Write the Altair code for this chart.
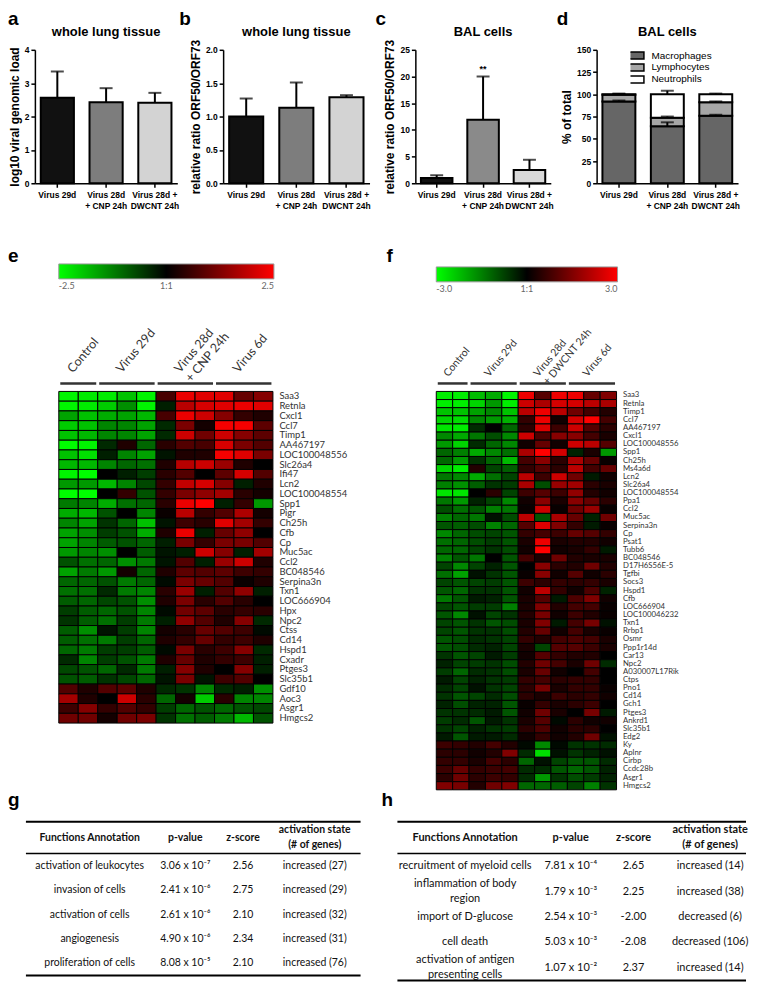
import altair as alt
import pandas as pd

FONT = "Liberation Sans"
CAL = "Lato"

# ---------------- bar panels a-c ----------------
bar_groups = ["Virus 29d", "Virus 28d\n+ CNP 24h", "Virus 28d +\nDWCNT 24h"]
a_mean = [2.56, 2.43, 2.41]
a_sem = [0.79, 0.42, 0.30]
b_mean = [1.00, 1.13, 1.29]
b_sem = [0.27, 0.38, 0.03]
c_mean = [1.0, 11.9, 2.5]
c_sem = [0.5, 8.1, 1.9]
c_signif = ["", "**", ""]
fill_ab = ["#111111", "#7d7d7d", "#d3d3d3"]
fill_c = ["#111111", "#8a8a8a", "#d9d9d9"]

# ---------------- panel d ----------------
cell_types = ["Macrophages", "Lymphocytes", "Neutrophils"]
d_macro = [92.0, 64.0, 76.0]
d_lymph = [7.5, 9.5, 15.0]
d_neut = [0.5, 26.5, 9.0]
d_macro_err = [1.0, 4.5, 1.0]
d_lymph_err = [0.8, 1.5, 1.0]
d_neut_err = [0.8, 4.0, 0.8]
cell_fill = ["#666666", "#a6a6a6", "#ffffff"]

# ---------------- heatmap e ----------------
e_groups = ["Control", "Virus 29d", "Virus 28d\n+ CNP 24h", "Virus 6d"]
e_group_sizes = [2, 3, 3, 3]
e_genes = ["Saa3", "Retnla", "Cxcl1", "Ccl7", "Timp1", "AA467197", "LOC100048556", "Slc26a4",
           "Ifi47", "Lcn2", "LOC100048554", "Spp1", "Pigr", "Ch25h", "Cfb", "Cp", "Muc5ac", "Ccl2",
           "BC048546", "Serpina3n", "Txn1", "LOC666904", "Hpx", "Npc2", "Ctss", "Cd14", "Hspd1",
           "Cxadr", "Ptges3", "Slc35b1", "Gdf10", "Aoc3", "Asgr1", "Hmgcs2"]
e_values = [
    [-2.4, -2.3, -2.3, -1.9, -2.4, 0.7, 2.3, 2.2, 2.2, 1.0, 1.3],
    [-2.4, -2.3, -2.0, -1.4, -2.4, -0.3, 1.8, 2.1, 2.2, 2.3, 2.2],
    [-1.6, -1.9, -1.7, -1.6, -1.8, 0.7, 2.3, 2.0, 1.3, 0.5, 0.3],
    [-2.0, -1.9, -1.3, -1.3, -1.6, -0.4, 1.2, 0.2, 2.4, 2.4, 0.9],
    [-1.9, -1.8, -1.3, -1.3, -1.6, -0.4, 2.0, 1.1, 2.0, 1.3, 0.9],
    [-2.5, -2.4, -0.4, 0.3, -1.0, 0.4, 0.8, 0.7, 2.1, 1.2, 0.8],
    [-1.9, -2.2, -0.3, -1.3, -1.6, -0.2, 0.3, 0.3, 2.4, 2.2, 1.2],
    [-1.8, -1.8, -1.3, -1.0, -1.1, 0.3, 1.8, 2.0, 1.5, 0.3, 0.0],
    [-2.4, -2.5, 0.0, -0.3, -0.6, 0.4, 0.8, 0.0, 0.9, 2.1, 0.8],
    [-1.5, -1.5, -1.8, -1.3, -0.7, 0.5, 1.9, 2.1, 1.3, -0.3, 0.3],
    [-2.5, -2.5, 0.0, 0.5, -0.8, 0.5, 1.2, 1.4, 1.6, 0.4, 0.2],
    [-1.2, -1.3, -1.7, -1.1, -1.0, 0.4, 2.3, 2.5, -0.3, 0.5, -1.5],
    [-1.7, -1.8, -0.8, 0.0, -1.3, 0.1, 1.8, 0.5, 0.8, 1.7, 0.2],
    [-1.3, -1.6, -0.5, -1.0, -1.9, -0.2, 0.6, 0.4, 2.2, 1.6, 0.5],
    [-1.6, -1.4, -0.6, -0.8, -1.7, 0.3, 2.3, -0.3, 1.0, 1.4, 0.0],
    [-1.6, -1.3, -0.9, -0.8, -1.0, -0.3, 1.2, 0.5, 1.2, 1.2, 0.8],
    [-1.5, -1.3, -1.4, 0.0, -0.9, -0.2, -0.3, 2.0, 1.3, -0.3, 1.6],
    [-0.8, -1.1, -1.0, -1.4, -1.2, -0.2, 0.8, -0.3, 1.5, 2.0, 0.3],
    [-1.6, -1.2, -1.5, 0.2, -1.0, 0.3, 0.9, 0.8, 0.9, 0.6, 0.5],
    [-1.0, -1.0, -0.8, -1.2, -1.0, -0.1, 1.2, 1.0, 0.8, 0.1, 0.3],
    [-1.1, -1.1, -0.4, -1.2, -1.3, 0.4, 1.5, -0.3, 0.8, 1.4, -0.3],
    [-0.9, -1.0, -0.7, -0.8, -1.4, 0.3, 1.2, 0.4, 0.8, 0.4, 0.0],
    [-0.6, -0.9, -1.0, -0.8, -1.3, -0.1, 1.1, 0.9, 0.4, 0.5, 0.4],
    [-0.5, -0.9, -1.1, -0.6, -1.2, -0.3, 1.4, 0.8, 0.3, 1.3, -0.4],
    [-0.9, -1.4, -0.2, -0.6, -1.3, 0.2, 0.4, 1.0, 0.8, 0.6, -0.1],
    [-0.9, -1.1, -1.2, -0.6, -1.0, 0.3, 0.5, 1.0, 0.5, 0.6, 0.3],
    [-1.0, -1.2, -0.6, -0.6, -0.9, -0.1, 1.2, 0.4, 0.6, 1.3, -0.4],
    [-0.4, -1.3, -0.6, -0.8, -1.2, 0.3, 1.0, 0.3, 0.5, 0.6, -0.3],
    [-0.7, -0.8, -1.0, -0.4, -1.2, -0.3, 1.3, 0.3, 0.0, 1.3, -0.3],
    [-0.8, -0.9, -0.5, -0.7, -1.0, -0.2, 1.2, -0.2, 0.6, 0.8, 0.0],
    [0.8, 0.3, 0.8, 0.9, 0.3, -0.4, -0.5, -1.3, -0.4, -0.3, -1.4],
    [1.6, 0.3, 0.0, 2.0, 0.4, -1.0, 0.2, -2.0, 0.4, -1.3, -1.3],
    [0.6, 1.3, 0.5, 0.8, 0.5, -0.6, -1.0, -0.8, -1.0, -0.8, -0.7],
    [1.1, 1.1, 0.2, 1.1, 1.2, -0.5, -1.1, -0.9, -1.2, -1.8, -0.8],
]

# ---------------- heatmap f ----------------
f_groups = ["Control", "Virus 29d", "Virus 28d\n+ DWCNT 24h", "Virus 6d"]
f_group_sizes = [2, 3, 3, 3]
f_genes = ["Saa3", "Retnla", "Timp1", "Ccl7", "AA467197", "Cxcl1", "LOC100048556", "Spp1", "Ch25h",
           "Ms4a6d", "Lcn2", "Slc26a4", "LOC100048554", "Ppa1", "Ccl2", "Muc5ac", "Serpina3n", "Cp",
           "Psat1", "Tubb6", "BC048546", "D17H6S56E-5", "Tgfbi", "Socs3", "Hspd1", "Cfb", "LOC666904",
           "LOC100046232", "Txn1", "Rrbp1", "Osmr", "Ppp1r14d", "Car13", "Npc2", "A030007L17Rik", "Ctps",
           "Pno1", "Cd14", "Gch1", "Ptges3", "Ankrd1", "Slc35b1", "Edg2", "Ky", "Aplnr", "Cirbp",
           "Ccdc28b", "Asgr1", "Hmgcs2"]
f_values = [
    [-2.8, -2.8, -2.2, -2.0, -2.9, 2.8, 1.0, 2.8, 2.8, 1.2, 1.5],
    [-2.8, -2.8, -2.5, -1.8, -2.8, 2.4, 2.0, 2.5, 2.5, 2.2, 2.0],
    [-2.3, -2.3, -1.9, -1.6, -2.3, 2.2, 2.8, 2.2, 1.3, 0.8, 0.4],
    [-2.5, -2.6, -1.6, -1.8, -2.1, 0.6, 2.8, 0.2, 2.5, 3.0, 0.8],
    [-2.7, -2.8, -0.5, 0.0, -1.2, 0.5, 2.6, 0.7, 2.4, 1.0, 0.5],
    [-1.6, -2.0, -1.4, -0.9, -1.6, 2.4, 0.9, 1.6, 1.6, 0.8, 0.3],
    [-1.8, -2.5, -0.5, -1.2, -1.6, 0.2, 1.2, 0.2, 2.4, 2.2, 1.0],
    [-1.2, -1.5, -2.0, -1.6, -1.3, 2.0, 3.0, 2.5, -0.4, 0.3, -1.8],
    [-1.2, -1.8, -0.6, -1.2, -2.2, 0.8, 1.6, 0.5, 2.0, 1.2, 0.1],
    [-2.5, -2.8, 0.4, -0.8, -1.1, 0.6, 1.0, 0.5, 2.2, 0.8, 1.2],
    [-1.4, -1.6, -2.0, -1.3, -0.8, 2.2, 0.7, 2.4, 1.3, -0.3, 0.2],
    [-1.5, -1.7, -1.1, -0.6, -0.7, 2.0, -0.9, 1.8, 1.9, 0.5, 0.3],
    [-2.7, -2.7, 0.0, 0.5, -0.8, 0.7, 1.0, 0.7, 1.7, 0.4, 0.2],
    [-1.4, -1.8, -0.4, -0.8, -1.6, 0.2, 1.6, 0.3, 1.6, 1.2, 0.5],
    [-0.9, -1.3, -1.0, -1.5, -1.4, 0.1, 2.4, 0.1, 1.3, 1.8, 0.1],
    [-1.5, -1.2, -1.4, -0.2, -0.9, 2.2, -1.0, 2.0, 1.2, -0.4, 1.3],
    [-1.0, -1.1, -0.9, -1.5, -1.2, 1.0, 2.6, 1.5, 0.6, -0.3, 0.1],
    [-1.6, -1.2, -0.9, -0.8, -1.0, 0.6, 0.8, 0.7, 1.2, 1.0, 0.6],
    [-1.3, -1.2, -0.9, -0.7, -1.0, 0.3, 2.8, 0.3, 0.4, 0.4, 0.2],
    [-1.2, -1.2, -0.8, -0.6, -0.9, 0.2, 3.0, 0.2, 0.3, 0.6, -0.3],
    [-1.5, -1.0, -1.4, 0.0, -1.0, 0.8, 0.3, 1.3, 0.4, 0.3, 0.3],
    [-0.8, -1.6, -0.8, -0.4, -1.0, 0.0, 1.6, 0.5, 0.4, 1.3, 0.4],
    [-1.3, -1.9, -0.2, -0.6, -1.0, 0.1, 1.6, 0.2, 1.0, 0.2, 0.5],
    [-0.8, -1.0, -0.8, -0.7, -1.0, 0.7, 0.5, 0.6, 0.5, 0.6, 0.3],
    [-1.0, -1.2, -0.6, -0.6, -1.0, 0.2, 2.2, 0.6, 0.2, 0.9, -0.4],
    [-1.4, -1.0, -0.3, -0.4, -1.0, 0.3, 1.0, -0.3, 0.9, 1.5, 0.2],
    [-0.8, -1.0, -0.7, -0.7, -1.5, 0.3, 1.5, 0.4, 0.8, 0.8, 0.1],
    [-1.0, -1.6, -0.2, -0.8, -0.6, 0.4, 1.4, 0.2, 0.7, 0.4, 0.1],
    [-0.8, -1.0, -0.6, -1.0, -0.9, 0.3, 1.5, -0.3, 0.8, 1.4, -0.2],
    [-0.8, -1.0, -0.6, -0.6, -0.9, 0.4, 1.2, 0.2, 0.8, 0.3, 0.1],
    [-1.0, -0.9, -0.5, -0.6, -0.8, 0.6, 0.4, 0.8, 0.9, 0.8, 0.3],
    [-1.0, -0.9, -0.5, -0.4, -0.8, 0.3, -0.8, 1.0, 1.0, 0.7, 0.3],
    [-0.6, -1.0, -0.8, -0.3, -0.7, 0.2, 1.0, 0.6, 0.4, 0.4, 0.0],
    [-0.4, -0.8, -0.7, -0.6, -0.9, 0.4, 1.3, 0.8, 0.3, 1.3, -0.5],
    [-0.7, -1.2, -0.5, -0.6, -0.9, 0.3, 1.2, 0.2, 0.0, 0.8, 0.0],
    [-0.3, -0.8, -0.4, -0.6, -0.7, 0.6, 0.8, 0.5, 0.6, 0.6, 0.0],
    [-0.5, -0.8, -0.2, -0.6, -0.8, 0.5, 1.4, 0.3, 0.6, 0.6, 0.1],
    [-0.6, -1.0, -0.8, -0.5, -0.9, 0.5, 0.3, 0.7, 0.5, 0.6, 0.2],
    [-0.4, -0.9, -0.4, -0.4, -1.0, 0.1, 0.6, 0.3, 0.5, 0.7, 0.0],
    [-0.6, -0.6, -0.5, -0.3, -1.0, 0.2, 1.3, 0.3, 0.0, 1.4, -0.3],
    [-0.7, -0.5, -1.0, -0.3, -0.6, 0.3, 1.0, -0.1, 0.5, 0.2, 0.2],
    [-0.6, -0.8, -0.4, -0.6, -0.7, 0.5, 0.9, 0.2, 0.5, 0.5, 0.0],
    [-0.3, -1.0, -0.3, -0.3, -0.5, 0.2, 0.6, 0.2, 0.4, 1.3, -0.2],
    [0.7, 0.6, 0.4, 0.8, 0.4, -0.1, -1.6, -0.1, -0.6, -0.6, -0.5],
    [0.5, 0.5, 0.2, 0.4, 1.5, -0.5, -2.6, -0.2, -0.6, -0.4, -0.2],
    [0.6, 0.6, 0.3, 0.8, 0.5, -1.2, -0.2, -0.8, -1.0, -1.0, -0.5],
    [0.7, 1.2, 0.6, 0.7, 0.8, -0.5, -0.5, -1.0, -1.2, -1.0, -0.4],
    [0.5, 1.3, 0.5, 0.7, 0.6, -0.5, -1.8, -0.6, -0.9, -0.7, -0.4],
    [1.5, 1.4, 0.4, 1.3, 1.5, -1.2, -1.2, -1.1, -0.8, -1.5, -0.6],
]

# ---------------- tables ----------------
tbl_header = ["Functions Annotation", "p-value", "z-score", "activation state\n(# of genes)"]
g_funcs = ["activation of leukocytes", "invasion of cells", "activation of cells", "angiogenesis",
           "proliferation of cells"]
g_pvals = ["3.06 x 10\u207b\u2077", "2.41 x 10\u207b\u2076", "2.61 x 10\u207b\u2076", "4.90 x 10\u207b\u2076",
           "8.08 x 10\u207b\u2075"]
g_z = ["2.56", "2.75", "2.10", "2.34", "2.10"]
g_state = ["increased (27)", "increased (29)", "increased (32)", "increased (31)", "increased (76)"]

h_funcs = ["recruitment of myeloid cells", "inflammation of body\nregion", "import of D-glucose", "cell death",
           "activation of antigen\npresenting cells"]
h_pvals = ["7.81 x 10\u207b\u2074", "1.79 x 10\u207b\u00b3", "2.54 x 10\u207b\u00b3", "5.03 x 10\u207b\u00b3",
           "1.07 x 10\u207b\u00b2"]
h_z = ["2.65", "2.25", "-2.00", "-2.08", "2.37"]
h_state = ["increased (14)", "increased (38)", "decreased (6)", "decreased (106)", "increased (14)"]

PLOT_H = 134
LETTER_X = -27
LETTER_Y = -25


def text_layer(txt, dx, dy, size, weight="bold", align="left", font=FONT, color="black"):
    return alt.Chart(pd.DataFrame({"t": [txt]})).mark_text(
        font=font, fontSize=size, fontWeight=weight, align=align, baseline="alphabetic", color=color
    ).encode(text="t:N", x=alt.value(dx), y=alt.value(dy))


def x_enc():
    return alt.X("group:N", sort=bar_groups, title=None,
                 scale=alt.Scale(paddingInner=0.32, paddingOuter=0.12),
                 axis=alt.Axis(labelAngle=0, labelExpr="split(datum.label, '\\n')", domainColor="black",
                               domainWidth=1.5, tickColor="black", tickWidth=1.5, tickSize=4, labelFont=FONT,
                               labelFontWeight="bold", labelFontSize=8.5, labelColor="black", labelLineHeight=11,
                               labelPadding=3))


def y_enc(field, title, ymax, values, fmt):
    return alt.Y(field, title=title, scale=alt.Scale(domain=[0, ymax], nice=False, zero=True),
                 axis=alt.Axis(values=values, format=fmt, grid=False, domainColor="black", domainWidth=1.5,
                               tickColor="black", tickWidth=1.5, tickSize=4, labelFont=FONT,
                               labelFontWeight="bold", labelFontSize=8.5, labelColor="black", labelPadding=2,
                               titleFont=FONT, titleFontWeight="bold", titleFontSize=12, titleColor="black",
                               titlePadding=3))


def bar_panel(mean, sem, fills, title, ytitle, ymax, yvalues, fmt, letter, letter_dx, width, signif=None):
    df = pd.DataFrame({"group": bar_groups, "mean": mean, "top": [m + s for m, s in zip(mean, sem)],
                       "fill": fills, "sig": signif if signif else ["", "", ""]})
    base = alt.Chart(df)
    err = base.mark_rule(color="black", strokeWidth=2).encode(
        x=x_enc(), y=y_enc("mean:Q", ytitle, ymax, yvalues, fmt), y2="top:Q")
    bars = base.mark_bar(stroke="black", strokeWidth=2).encode(
        x=x_enc(), y=y_enc("mean:Q", ytitle, ymax, yvalues, fmt),
        color=alt.Color("fill:N", scale=None, legend=None))
    caps = base.mark_tick(orient="horizontal", size=13, thickness=2, color="black").encode(
        x=x_enc(), y=y_enc("top:Q", ytitle, ymax, yvalues, fmt))
    layers = [err, bars, caps]
    if signif:
        layers.append(base.mark_text(font=FONT, fontSize=9, fontWeight="bold", baseline="bottom", dy=-3,
                                     color="black").encode(
            x=x_enc(), y=y_enc("top:Q", ytitle, ymax, yvalues, fmt), text="sig:N"))
    layers.append(text_layer(letter, letter_dx, LETTER_Y, 19))
    layers.append(text_layer(title, width / 2, -14, 13, align="center"))
    return alt.layer(*layers).properties(width=width, height=PLOT_H)


W_A, W_B, W_C, W_D = 143, 147, 136, 142
pa = bar_panel(a_mean, a_sem, fill_ab, "whole lung tissue", "log10 viral genomic load", 4,
               [0, 1, 2, 3, 4], "d", "a", LETTER_X, W_A)
pb = bar_panel(b_mean, b_sem, fill_ab, "whole lung tissue", "relative ratio ORF50/ORF73", 2.0,
               [0, 0.5, 1.0, 1.5, 2.0], ".1f", "b", -44, W_B)
pc = bar_panel(c_mean, c_sem, fill_c, "BAL cells", "relative ratio ORF50/ORF73", 25,
               [0, 5, 10, 15, 20, 25], "d", "c", -40, W_C, signif=c_signif)

# panel d
recs = []
for i, g in enumerate(bar_groups):
    cum = 0.0
    for ct, vals, errs in zip(cell_types, [d_macro, d_lymph, d_neut], [d_macro_err, d_lymph_err, d_neut_err]):
        recs.append({"group": g, "cell": ct, "y0": cum, "y1": cum + vals[i], "etop": cum + vals[i] + errs[i]})
        cum += vals[i]
ddf = pd.DataFrame(recs)
dbase = alt.Chart(ddf)
d_vals = [0, 25, 50, 75, 100, 125, 150]
d_bars = dbase.mark_bar(stroke="black", strokeWidth=2).encode(
    x=x_enc(), y=y_enc("y0:Q", "% of total", 150, d_vals, "d"), y2="y1:Q",
    color=alt.Color("cell:N", scale=alt.Scale(domain=cell_types, range=cell_fill),
                    legend=alt.Legend(orient="none", legendX=34, legendY=0, title=None,
                                      symbolType="M-1.5,-0.7H1.5V0.7H-1.5Z", symbolSize=100,
                                      symbolStrokeColor="black", symbolStrokeWidth=1.5, labelFont=FONT,
                                      labelFontSize=10, labelColor="black", rowPadding=0, clipHeight=11.5,
                                      labelOffset=9, padding=0)))
d_err = dbase.mark_rule(color="black", strokeWidth=2).encode(
    x=x_enc(), y=y_enc("y1:Q", "% of total", 150, d_vals, "d"), y2="etop:Q")
d_caps = dbase.mark_tick(orient="horizontal", size=13, thickness=2, color="black").encode(
    x=x_enc(), y=y_enc("etop:Q", "% of total", 150, d_vals, "d"))
pd_ = alt.layer(d_bars, d_err, d_caps, text_layer("d", -40, LETTER_Y, 19),
                text_layer("BAL cells", W_D / 2, -14, 13, align="center")).properties(width=W_D, height=PLOT_H)

row1 = alt.hconcat(pa, pb, pc, pd_, spacing=46, bounds="flush").resolve_scale(color="independent")


# ---------------- heatmaps ----------------
def heatmap(genes, vals, lim, cell_w, height, left_pad, groups, sizes, letter, letter_dx, gene_fs, group_fs,
            legend_y, label_y, spacer_y=None):
    ncol = len(vals[0])
    width = cell_w + left_pad
    recs = [{"gene": g, "c0": j, "c1": j + 1, "v": v} for g, row in zip(genes, vals) for j, v in enumerate(row)]
    df = pd.DataFrame(recs)
    xs = alt.Scale(domain=[-left_pad * ncol / cell_w, ncol], nice=False, zero=False)
    cells = alt.Chart(df).mark_rect(stroke="#000000", strokeWidth=1).encode(
        x=alt.X("c0:Q", scale=xs, axis=None), x2="c1:Q",
        y=alt.Y("gene:N", sort=genes, scale=alt.Scale(paddingInner=0, paddingOuter=0),
                axis=alt.Axis(orient="right", title=None, domain=False, ticks=False, labelFont=CAL,
                              labelFontSize=gene_fs, labelColor="#333333", labelPadding=6, labelOverlap=False)),
        color=alt.Color("v:Q", scale=alt.Scale(domain=[-lim, 0, lim], range=["#00ff00", "#000000", "#ff0000"],
                                               interpolate="rgb"),
                        legend=alt.Legend(orient="none", legendX=left_pad, legendY=legend_y,
                                          direction="horizontal", gradientLength=cell_w + 1,
                                          gradientThickness=15, title=None, values=[-lim, 0, lim],
                                          labelExpr="datum.value == 0 ? '1:1' : (datum.value < 0 ? '-' + "
                                                    "format(-datum.value, '.1f') : format(datum.value, '.1f'))",
                                          labelFont=CAL, labelFontSize=9, labelColor="#666666",
                                          labelOverlap=False, gradientStrokeColor="#999999",
                                          gradientStrokeWidth=1, labelOffset=3, padding=0)))
    starts, ends = [], []
    s = 0
    for n in sizes:
        starts.append(s)
        ends.append(s + n)
        s += n
    gdf = pd.DataFrame({"name": groups, "s": starts, "e": ends,
                        "m": [(a + b) / 2 for a, b in zip(starts, ends)]})
    glines = alt.Chart(gdf).mark_rule(color="#333333", strokeWidth=2.5, xOffset=1.5, x2Offset=-1.5).encode(
        x=alt.X("s:Q", scale=xs, axis=None), x2="e:Q", y=alt.value(-8))
    glabels = alt.Chart(gdf).mark_text(angle=310, align="left", baseline="bottom", font=CAL,
                                       fontSize=group_fs, color="#333333", lineBreak="\n", xOffset=-3).encode(
        x=alt.X("m:Q", scale=xs, axis=None), y=alt.value(label_y), text="name:N")
    layers = [cells, glines, glabels, text_layer(letter, letter_dx, -130, 19)]
    if spacer_y is not None:
        layers.append(alt.Chart(pd.DataFrame({"k": [0]})).mark_rule(opacity=0, strokeOpacity=0).encode(
            x=alt.value(0), y=alt.value(spacer_y), y2=alt.value(spacer_y + 1)))
    return alt.layer(*layers).properties(width=width, height=height)


he = heatmap(e_genes, e_values, 2.5, 215, 333, 24, e_groups, e_group_sizes, "e", LETTER_X, 9.5, 12.5,
             -128, -16, spacer_y=-182)
hf = heatmap(f_genes, f_values, 3.0, 181, 400, 0, f_groups, f_group_sizes, "f", -50, 7.8, 10.5, -125, -13)
row2 = alt.hconcat(he, hf, spacing=164, bounds="flush").resolve_scale(color="independent")


# ---------------- tables ----------------
def hrule(yv, x0, x1, sw):
    return alt.Chart(pd.DataFrame({"k": [0]})).mark_rule(color="black", strokeWidth=sw).encode(
        x=alt.value(x0), x2=alt.value(x1), y=alt.value(yv))


def table(columns, x0, x1, width, row_h, centers, letter, letter_dx, fs, lh=15):
    n = len(columns[0])
    height = n * row_h
    layers = []
    for col, cx in zip(columns, centers):
        recs = []
        for r, txt in enumerate(col):
            lines = txt.split("\n")
            for li, line in enumerate(lines):
                recs.append({"ypos": r + 0.5 + (li - (len(lines) - 1) / 2) * lh / row_h, "t": line})
        layers.append(alt.Chart(pd.DataFrame(recs)).mark_text(
            font=CAL, fontSize=fs, color="#111111", align="center", baseline="middle").encode(
            x=alt.value(cx),
            y=alt.Y("ypos:Q", axis=None, scale=alt.Scale(domain=[0, n], reverse=True, nice=False, zero=False)),
            text="t:N"))
    for htxt, cx in zip(tbl_header, centers):
        lines = htxt.split("\n")
        for li, line in enumerate(lines):
            yv = -16 + (li - (len(lines) - 1) / 2) * lh
            layers.append(alt.Chart(pd.DataFrame({"h": [line]})).mark_text(
                font=CAL, fontSize=fs, fontWeight="bold", color="#111111", align="center",
                baseline="middle").encode(x=alt.value(cx), y=alt.value(yv), text="h:N"))
    layers += [hrule(-32, x0, x1, 2), hrule(0, x0, x1, 1.5), hrule(height, x0, x1, 2)]
    layers.append(text_layer(letter, letter_dx, -48, 19))
    return alt.layer(*layers).properties(width=width, height=height)


tg = table([g_funcs, g_pvals, g_z, g_state], -9, 327, 327, 24.5, [55, 151, 209, 281], "g", LETTER_X, 10.5)
th = table([h_funcs, h_pvals, h_z, h_state], 0, 350, 350, 25.5, [68, 174, 237, 314], "h", -16, 11)
row3 = alt.hconcat(tg, th, spacing=37, bounds="flush")

chart = alt.vconcat(row1, row2, row3, spacing=0).resolve_scale(color="independent").properties(
    padding=0).configure_view(stroke=None)

chart.save("out.html", embed_options={"renderer": "svg", "actions": False})
